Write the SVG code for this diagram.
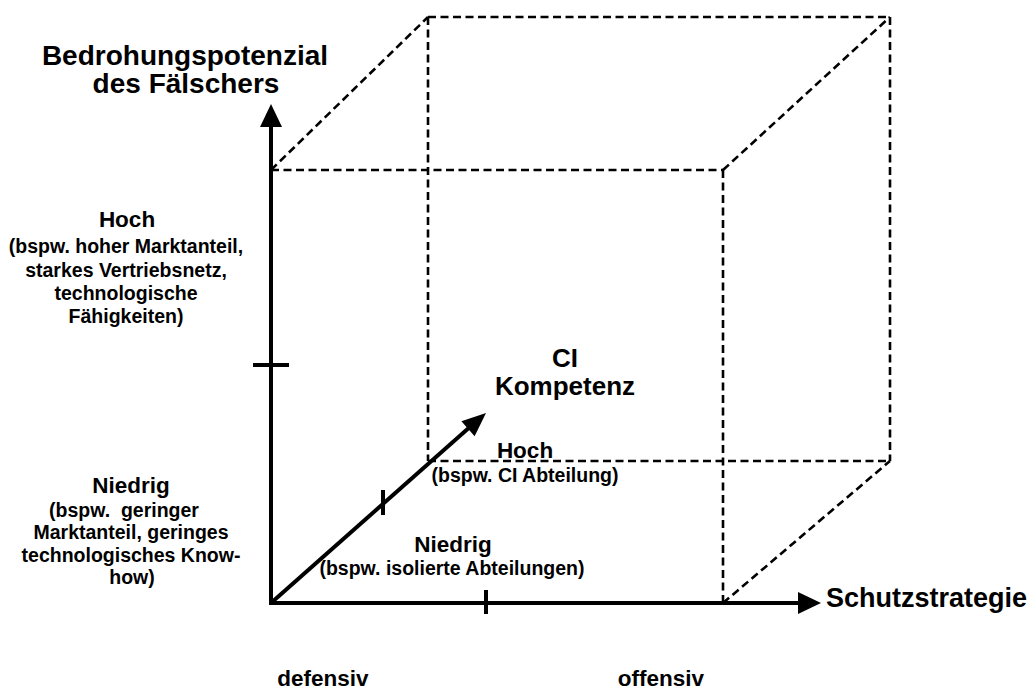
<svg xmlns="http://www.w3.org/2000/svg" width="1028" height="690" viewBox="0 0 1028 690">
<style>
  text { font-family: "Liberation Sans", Arial, sans-serif; font-weight: bold; fill: #000; text-anchor: middle; white-space: pre; }
  .big { font-size: 28px; }
  .mid { font-size: 22.5px; }
  .small { font-size: 19.5px; }
  .dash { stroke: #000; stroke-width: 2.6; stroke-dasharray: 8 4.5; fill: none; }
  .axis { stroke: #000; stroke-width: 4; fill: none; }
  .head { fill: #000; stroke: none; }
</style>
<rect width="1028" height="690" fill="#fff"/>
<g id="cube">
  <line class="dash" x1="271" y1="170" x2="723" y2="170"/>
  <line class="dash" x1="723" y1="170" x2="723" y2="603"/>
  <line class="dash" x1="428" y1="17" x2="890" y2="17"/>
  <line class="dash" x1="428" y1="17" x2="428" y2="461"/>
  <line class="dash" x1="428" y1="461" x2="890" y2="461"/>
  <line class="dash" x1="890" y1="17" x2="890" y2="461"/>
  <line class="dash" x1="271" y1="170" x2="428" y2="17"/>
  <line class="dash" x1="723" y1="170" x2="890" y2="17"/>
  <line class="dash" x1="723" y1="603" x2="890" y2="461"/>
</g>
<g id="connectors">
  <line class="axis" x1="271" y1="605" x2="271" y2="122"/>
  <polygon class="head" points="271,104 282,127 260,127"/>
  <line class="axis" x1="269" y1="603" x2="802" y2="603"/>
  <polygon class="head" points="821,603 798,592 798,614"/>
  <line class="axis" x1="271" y1="603" x2="471" y2="426"/>
  <polygon class="head" points="486,413 474.6,436.3 461.4,421.3"/>
  <line class="axis" stroke-width="3" x1="253" y1="365" x2="289" y2="365"/>
  <line class="axis" stroke-width="3" x1="486" y1="590" x2="486" y2="614"/>
  <line class="axis" stroke-width="3" x1="383" y1="490" x2="383" y2="515"/>
</g>
<g id="y-axis-label">
  <text class="big" x="185" y="65">Bedrohungspotenzial</text>
  <text class="big" x="186" y="93">des Fälschers</text>
</g>
<g id="y-high">
  <text class="mid" x="127" y="227">Hoch</text>
  <text class="small" x="126" y="253">(bspw. hoher Marktanteil,</text>
  <text class="small" x="126" y="277">starkes Vertriebsnetz,</text>
  <text class="small" x="126" y="300">technologische</text>
  <text class="small" x="126" y="323">Fähigkeiten)</text>
</g>
<g id="y-low">
  <text class="mid" x="131" y="493">Niedrig</text>
  <text class="small" x="124" y="517">(bspw.  geringer</text>
  <text class="small" x="131" y="539">Marktanteil, geringes</text>
  <text class="small" x="131" y="562">technologisches Know-</text>
  <text class="small" x="132" y="584">how)</text>
</g>
<g id="ci-label">
  <text class="big" x="565" y="367" style="font-size:26px">CI</text>
  <text class="big" x="565" y="395" style="font-size:26px">Kompetenz</text>
</g>
<g id="ci-high">
  <text class="mid" x="525" y="458">Hoch</text>
  <text class="small" x="525" y="482">(bspw. CI Abteilung)</text>
</g>
<g id="ci-low">
  <text class="mid" x="453" y="552">Niedrig</text>
  <text class="small" x="452" y="575">(bspw. isolierte Abteilungen)</text>
</g>
<g id="x-axis-label">
  <text class="big" x="826" y="607" style="font-size:27px;text-anchor:start">Schutzstrategie</text>
</g>
<g id="x-values">
  <text class="mid" x="323" y="686">defensiv</text>
  <text class="mid" x="661" y="686">offensiv</text>
</g>
</svg>
